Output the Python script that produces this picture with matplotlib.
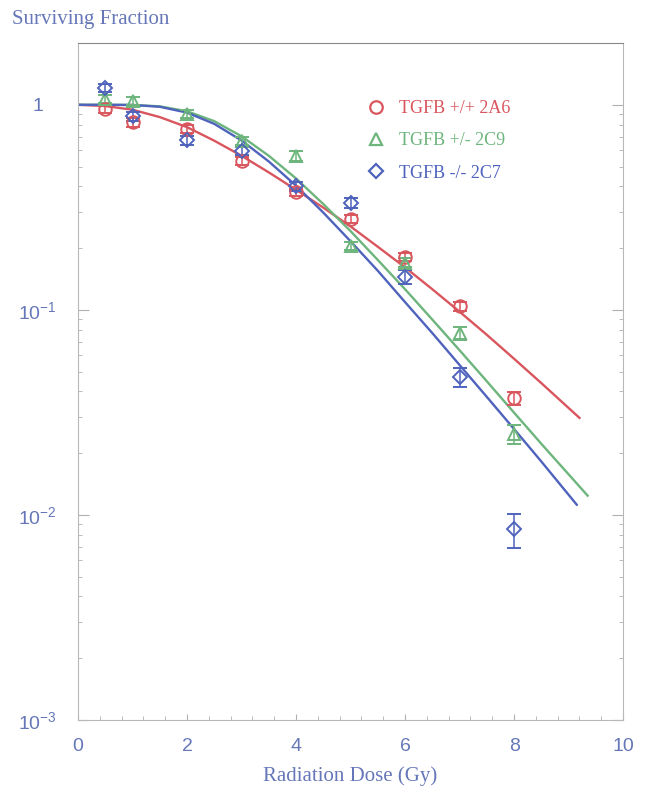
import numpy as np
import matplotlib.pyplot as plt
from matplotlib.lines import Line2D
from matplotlib.ticker import FixedLocator, LogLocator, NullFormatter, MultipleLocator

# --- measured survival (points) ---
dose = [0.5, 1, 2, 3, 4, 5, 6, 7, 8]
sf_wt = [0.95, 0.82, 0.76, 0.533, 0.375, 0.277, 0.181, 0.104, 0.037]
sf_het = [1.07, 1.045, 0.90, 0.667, 0.563, 0.205, 0.17, 0.077, 0.0247]
sf_ko = [1.21, 0.88, 0.67, 0.596, 0.40, 0.333, 0.145, 0.047, 0.0085]
err_wt = [0.04, 0.04, 0.035, 0.025, 0.015, 0.012, 0.008, 0.005, 0.0027]
err_het = [0.05, 0.05, 0.04, 0.03, 0.03, 0.01, 0.008, 0.0055, 0.0026]
err_ko = [0.06, 0.045, 0.035, 0.03, 0.02, 0.019, 0.011, 0.005, 0.0016]

# --- fitted curves ---
fit_dose = [0, 0.5, 1, 1.5, 2, 2.5, 3, 3.5, 4, 4.5, 5, 5.5, 6, 6.5, 7, 7.5, 8, 8.5]
fit_wt = [1.0, 0.986, 0.946, 0.871, 0.778, 0.668, 0.564, 0.468, 0.385, 0.315,
          0.255, 0.203, 0.161, 0.126, 0.0979, 0.0755, 0.0577, 0.0439]
fit_het = [1.0, 1.0, 0.9985, 0.983, 0.930, 0.832, 0.702, 0.564, 0.437, 0.328,
           0.242, 0.175, 0.126, 0.0896, 0.0635, 0.0448, 0.0315, 0.0222]
fit_ko = [1.0, 1.0, 0.998, 0.978, 0.916, 0.807, 0.670, 0.529, 0.403, 0.298,
          0.216, 0.155, 0.109, 0.077, 0.0538, 0.0376, 0.0262, 0.0182]
end_dose = [9.2, 9.35, 9.15]
end_sf = [0.0297, 0.0124, 0.0112]

labels = ['TGFB +/+ 2A6', 'TGFB +/- 2C9', 'TGFB -/- 2C7']
colors = ['#d9565e', '#6db57c', '#4f63bd']
markers = ['o', '^', 'D']
msizes = [9, 9, 7.5]
yticks = [1e-3, 1e-2, 1e-1, 1]
ytick_labels = [r'$\mathregular{10^{-3}}$', r'$\mathregular{10^{-2}}$', r'$\mathregular{10^{-1}}$', '1']
xticks = [0, 2, 4, 6, 8, 10]

text_col = '#6577b8'
plt.rcParams['font.family'] = 'Liberation Sans'

fig = plt.figure(figsize=(6.45, 7.98), dpi=100)
ax = fig.add_axes([0.121, 0.098, 0.845, 0.848])

pts = [sf_wt, sf_het, sf_ko]
errs = [err_wt, err_het, err_ko]
fits = [fit_wt, fit_het, fit_ko]
for i in range(3):
    ax.plot(fit_dose + [end_dose[i]], fits[i] + [end_sf[i]], color=colors[i], lw=1.7, zorder=2)
handles = []
for i in range(3):
    ax.errorbar(dose, pts[i], yerr=errs[i], fmt=markers[i], mfc='none', mec=colors[i],
                mew=1.4, ms=msizes[i], ecolor=colors[i], elinewidth=1.1, capsize=5,
                capthick=1.1, zorder=3)
    handles.append(Line2D([], [], ls='none', marker=markers[i], mfc='none', mec=colors[i],
                          mew=1.6, ms=msizes[i], label=labels[i]))

ax.set_yscale('log')
ax.set_ylim(1e-3, 2)
ax.set_xlim(0, 10)

ax.yaxis.set_major_locator(FixedLocator(yticks))
ax.set_yticklabels(ytick_labels)
ax.yaxis.set_minor_locator(LogLocator(base=10, subs=np.arange(2, 10)))
ax.yaxis.set_minor_formatter(NullFormatter())
ax.set_xticks(xticks)
ax.xaxis.set_minor_locator(MultipleLocator(0.4))

for s in ax.spines.values():
    s.set_color('#b8b8b8')
    s.set_linewidth(0.8)
ax.spines['top'].set_color('#888888')
ax.tick_params(axis='both', which='both', direction='in', colors='#b0b0b0',
               right=True, top=False)
ax.tick_params(axis='y', which='major', length=8, pad=29, labelsize=14, labelcolor=text_col)
ax.tick_params(axis='y', which='minor', length=3)
ax.tick_params(axis='x', which='major', length=4, pad=13, labelsize=14, labelcolor=text_col)
ax.tick_params(axis='x', which='minor', length=3)
for t in ax.get_yticklabels():
    t.set_horizontalalignment('center')

ax.set_xlabel('Radiation Dose (Gy)', family='Liberation Serif', fontsize=15, color=text_col, labelpad=8)
fig.text(0.018, 0.975, 'Surviving Fraction', family='Liberation Serif', fontsize=15,
         color=text_col, ha='left', va='center')

ax.legend(handles=handles, loc='upper left', bbox_to_anchor=(0.5, 0.94), frameon=False,
          prop={'family': 'Liberation Serif', 'size': 13}, labelcolor='markeredgecolor',
          handlelength=1.0, handletextpad=0.8, labelspacing=0.85)

fig.savefig('out.png', dpi=100, facecolor='white')
